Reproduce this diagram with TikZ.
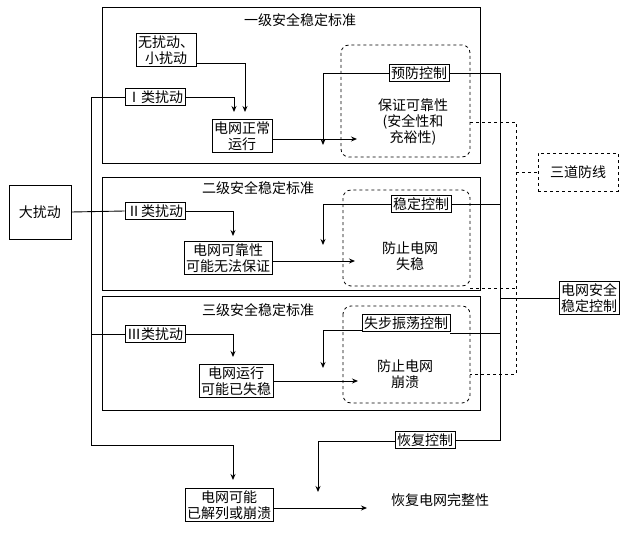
\documentclass[tikz,border=0pt]{standalone}
\usepackage{fontspec}
\setmainfont{Noto Sans CJK SC}
\usetikzlibrary{arrows.meta}
\begin{document}
\begin{tikzpicture}[x=1pt,y=-1pt,font=\fontsize{14}{16}\selectfont,
 bx/.style={draw,line width=0.9pt,inner sep=2pt,align=center},
 lv/.style={draw,line width=0.9pt},
 dz/.style={draw,dashed,rounded corners=8pt,line width=0.8pt},
 ln/.style={line width=0.9pt},
 ar/.style={line width=0.9pt,-{Stealth[length=6pt,width=5pt]}},
 dl/.style={dashed,line width=0.8pt},
 tx/.style={align=center,inner sep=1pt}]
\useasboundingbox (0,0) rectangle (640,535);
% level boxes
\draw[lv] (102,7) rectangle (480,163);
\draw[lv] (102,177) rectangle (480,290);
\draw[lv] (102,296) rectangle (480,410);
\node[tx,fill=white] (t1) at (300,20) {一级安全稳定标准};
\node[tx,fill=white] (t2) at (258,188) {二级安全稳定标准};
\node[tx,fill=white] (t3) at (258,310) {三级安全稳定标准};
% dashed zones
\draw[dz] (341,45) rectangle (470,157);
\draw[dz] (343,190) rectangle (470,286);
\draw[dz] (343,306) rectangle (470,403);
% nodes
\node[bx] (n0) at (166,50) {无扰动、\\小扰动};
\node[bx] (c1) at (155,97) {Ⅰ类扰动};
\node[bx] (s1) at (242,136) {电网正常\\运行};
\node[bx,fill=white] (p1) at (419,73) {预防控制};
\node[tx] (g1) at (413,122) {保证可靠性\\(安全性和\\充裕性)};
\node[bx,dashed,minimum width=80pt,minimum height=38pt] (sd) at (578,172) {三道防线};
\node[bx,minimum width=62pt,minimum height=54pt] (big) at (40,212) {大扰动};
\node[bx] (c2) at (155,211) {Ⅱ类扰动};
\node[bx] (s2) at (228,258) {电网可靠性\\可能无法保证};
\node[bx,fill=white] (p2) at (421,204) {稳定控制};
\node[tx] (g2) at (410,256) {防止电网\\失稳};
\node[bx] (ctl) at (589,298) {电网安全\\稳定控制};
\node[bx] (c3) at (155,334) {Ⅲ类扰动};
\node[bx] (s3) at (236,381) {电网运行\\可能已失稳};
\node[bx,fill=white] (p3) at (406,323) {失步振荡控制};
\node[tx] (g3) at (405,374) {防止电网\\崩溃};
\node[bx] (p4) at (425,440) {恢复控制};
\node[bx] (s4) at (229,505) {电网可能\\已解列或崩溃};
\node[tx] (g4) at (440,500) {恢复电网完整性};
% disturbance trunk
\draw[ln] (big.east) -- (c2.west);
\draw[ln] (c1.west) -- (91,97) -- (91,445);
\draw[ln] (c3.west) -- (91,334);
\draw[ar] (91,445) -- (233,445) -- (233,480);
\draw[ar] (c1.east) -- (234,97) -- (234,112);
\draw[ar] (n0.east |- 0,63) -- (245,63) -- (245,112);
\draw[ar] (c2.east) -- (233,211) -- (233,236);
\draw[ar] (c3.east) -- (233,334) -- (233,357);
% state arrows
\draw[ar] (s1.east |- 0,139) -- (357,139);
\draw[ar] (s2.east |- 0,261) -- (355,261);
\draw[ar] (s3.east) -- (358,381);
\draw[ar] (s4.east |- 0,508) -- (367,508);
% control bus
\draw[ln] (p1.east) -- (500,73) -- (500,440) -- (p4.east);
\draw[ln] (p2.east) -- (500,204);
\draw[ln] (p3.east |- 0,333) -- (500,333);
\draw[ln] (ctl.west) -- (500,298);
\draw[ar] (p1.west) -- (323,73) -- (323,145);
\draw[ar] (p2.west) -- (323,204) -- (323,245);
\draw[ar] (p3.west |- 0,330) -- (323,330) -- (323,368);
\draw[ar] (p4.west |- 0,441) -- (318,441) -- (318,492);
% dashed defence links
\draw[dl] (470,122) -- (516,122) -- (516,374) -- (470,374);
\draw[dl] (470,288) -- (516,288);
\draw[dl] (516,172) -- (sd.west);
\end{tikzpicture}
\end{document}
